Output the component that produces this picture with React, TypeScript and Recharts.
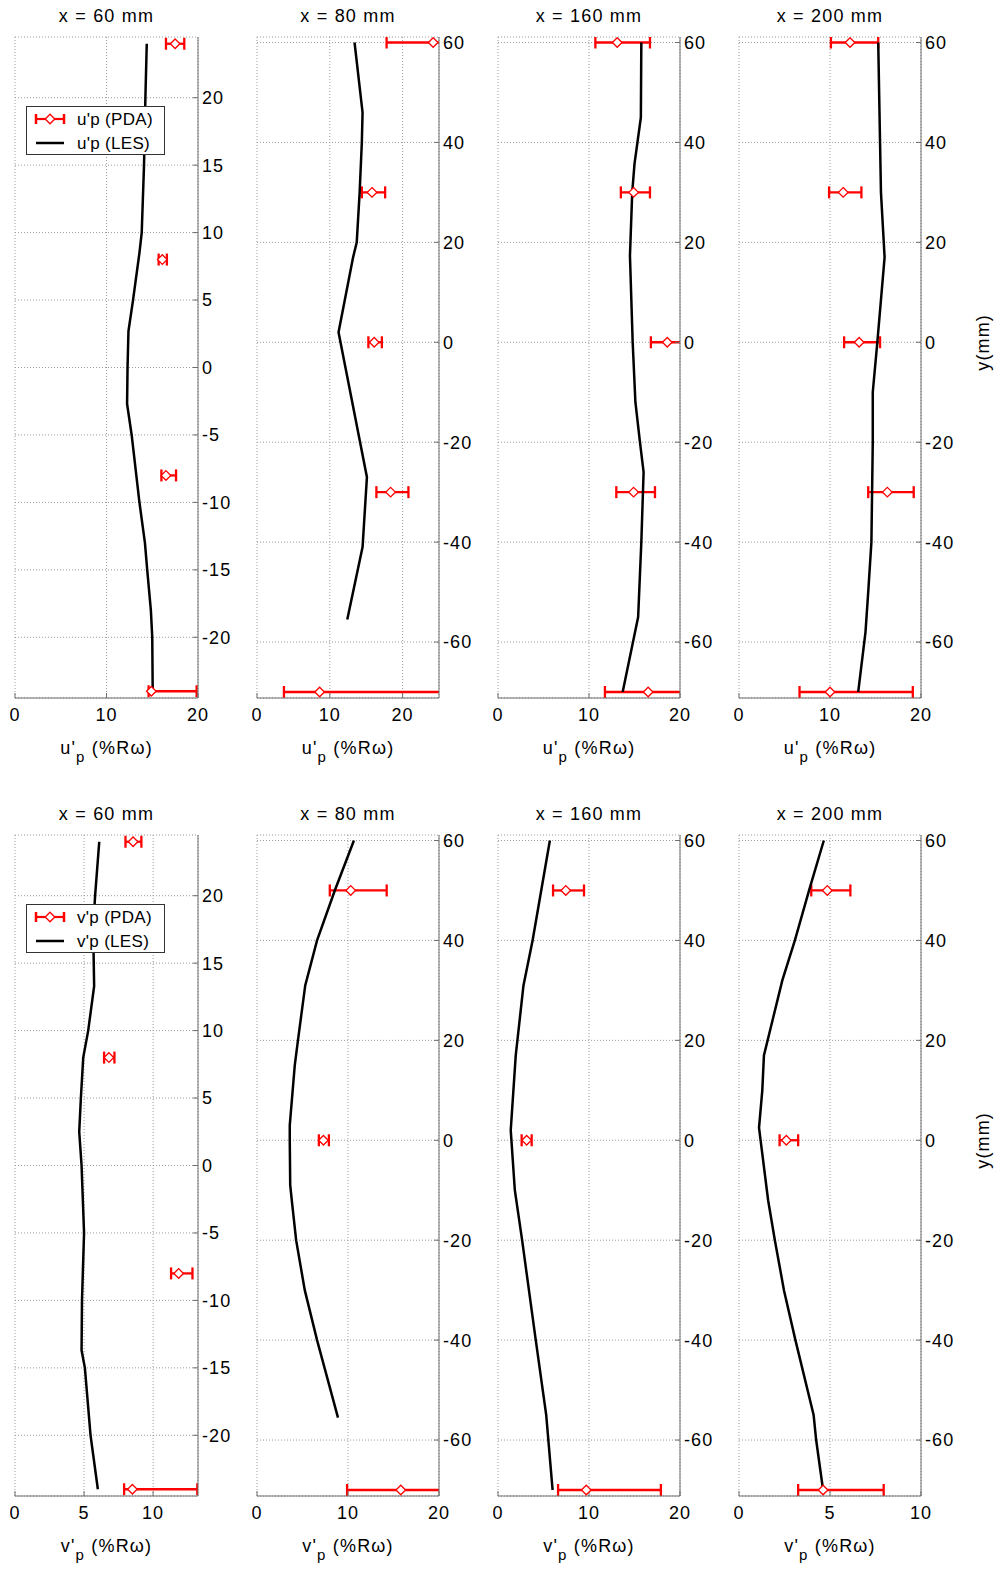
import React from 'react';
import { ScatterChart, Scatter, XAxis, YAxis, CartesianGrid, ErrorBar, Legend } from 'recharts';

const FONT = '"Liberation Sans", Arial, Helvetica, sans-serif';

// ---------- DATA ----------
// LES profiles: [y (mm), value (%Rω)]
const lesU60: [number, number][] = [
  [24, 14.4], [20, 14.25], [15, 14.1], [10, 13.85], [8.5, 13.6], [5, 12.9], [2.7, 12.4], [0, 12.3],
  [-2.7, 12.25], [-5, 12.75], [-10, 13.6], [-13, 14.2], [-15, 14.45], [-18, 14.85], [-20, 15.0], [-24, 15.05],
];
const lesU80: [number, number][] = [
  [60, 13.4], [46, 14.5], [40, 14.4], [30, 14.1], [20, 13.7], [17, 13.2], [2, 11.2], [-27, 15.1], [-41, 14.5], [-55.5, 12.4],
];
const lesU160: [number, number][] = [
  [60, 15.75], [45, 15.7], [35.7, 15.0], [30, 14.75], [17.3, 14.5], [0, 14.8], [-12, 15.1], [-20, 15.6],
  [-26, 16.0], [-40, 15.75], [-55, 15.4], [-70, 13.7],
];
const lesU200: [number, number][] = [
  [60, 15.3], [40, 15.5], [30, 15.6], [17, 16.0], [0, 15.2], [-10, 14.7], [-20, 14.7], [-40, 14.55],
  [-50, 14.2], [-58, 13.9], [-70, 13.1],
];
const lesV60: [number, number][] = [
  [24, 6.1], [20, 5.8], [17.5, 5.66], [13.3, 5.73], [10, 5.3], [8, 4.94], [5, 4.77], [2.5, 4.65], [0, 4.82],
  [-5, 5.0], [-10, 4.85], [-13.7, 4.82], [-15, 5.06], [-20, 5.47], [-24, 6.0],
];
const lesV80: [number, number][] = [
  [60, 10.65], [50, 8.55], [40, 6.6], [31, 5.3], [20, 4.5], [15, 4.15], [3, 3.6], [0, 3.6], [-9, 3.65],
  [-12.5, 3.85], [-20, 4.3], [-30, 5.25], [-40, 6.6], [-55.5, 8.9],
];
const lesV160: [number, number][] = [
  [60, 5.7], [40, 3.8], [31, 2.8], [17, 1.95], [2, 1.4], [-10, 1.85], [-20, 2.65], [-40, 4.15], [-55, 5.3], [-70, 6.0],
];
const lesV200: [number, number][] = [
  [60, 4.66], [50, 3.85], [40, 3.07], [32, 2.38], [17, 1.37], [10, 1.28], [2.5, 1.1], [-12, 1.6], [-20, 1.97],
  [-30, 2.47], [-40, 3.1], [-55, 4.1], [-60, 4.24], [-70, 4.62],
];

// PDA measurements: [y (mm), mean, lower end, upper end]
const pdaU60: [number, number, number, number][] = [
  [24, 17.5, 16.5, 18.5], [8, 16.1, 15.7, 16.6], [-8, 16.5, 16.0, 17.6], [-24, 14.9, 14.6, 19.85],
];
const pdaU80: [number, number, number, number][] = [
  [60, 24.2, 17.8, 30.6], [30, 15.8, 14.4, 17.6], [0, 16.1, 15.3, 17.15], [-30, 18.35, 16.4, 20.8], [-70, 8.6, 3.7, 26.5],
];
const pdaU160: [number, number, number, number][] = [
  [60, 13.1, 10.7, 16.7], [30, 14.9, 13.5, 16.7], [0, 18.6, 16.8, 20.4], [-30, 14.9, 13.0, 17.25], [-70, 16.5, 11.75, 21.25],
];
const pdaU200: [number, number, number, number][] = [
  [60, 12.2, 10.1, 15.3], [30, 11.45, 9.9, 13.45], [0, 13.2, 11.55, 15.5], [-30, 16.3, 14.2, 19.2], [-70, 10.0, 6.65, 19.1],
];
const pdaV60: [number, number, number, number][] = [
  [24, 8.55, 8.0, 9.15], [8, 6.8, 6.45, 7.2], [-8, 11.85, 11.3, 12.85], [-24, 8.5, 7.9, 13.2],
];
const pdaV80: [number, number, number, number][] = [
  [50, 10.3, 8.0, 14.25], [0, 7.3, 6.8, 7.9], [-70, 15.8, 9.9, 21.7],
];
const pdaV160: [number, number, number, number][] = [
  [50, 7.45, 6.05, 9.45], [0, 3.15, 2.6, 3.7], [-70, 9.7, 6.6, 17.9],
];
const pdaV200: [number, number, number, number][] = [
  [50, 4.85, 3.97, 6.12], [0, 2.6, 2.23, 3.25], [-70, 4.62, 3.25, 7.95],
];

// Axis ticks & domains
const yTicksNear = [20, 15, 10, 5, 0, -5, -10, -15, -20];
const yTicksFar = [60, 40, 20, 0, -20, -40, -60];
const yDomainNear: [number, number] = [-24.5, 24.5];
const yDomainFar: [number, number] = [-71.2, 61.1];
const xTicks20 = [0, 10, 20];
const xTicks10 = [0, 5, 10];

// ---------- LAYOUT ----------
const PLOT_H = 661;
const TOP_ROW = 37;
const BOTTOM_ROW = 835;

interface PanelSpec {
  title: string;
  sym: string;
  les: [number, number][];
  pda: [number, number, number, number][];
  xDomain: [number, number];
  xTicks: number[];
  yDomain: [number, number];
  yTicks: number[];
  left: number;
  top: number;
  w: number;
  legend?: boolean;
  yLabel?: boolean;
}

const PANELS: PanelSpec[] = [
  { title: 'x = 60 mm', sym: 'u', les: lesU60, pda: pdaU60, xDomain: [0, 20], xTicks: xTicks20, yDomain: yDomainNear, yTicks: yTicksNear, left: 15, top: TOP_ROW, w: 183, legend: true },
  { title: 'x = 80 mm', sym: 'u', les: lesU80, pda: pdaU80, xDomain: [0, 25], xTicks: xTicks20, yDomain: yDomainFar, yTicks: yTicksFar, left: 257, top: TOP_ROW, w: 182 },
  { title: 'x = 160 mm', sym: 'u', les: lesU160, pda: pdaU160, xDomain: [0, 20], xTicks: xTicks20, yDomain: yDomainFar, yTicks: yTicksFar, left: 498, top: TOP_ROW, w: 182 },
  { title: 'x = 200 mm', sym: 'u', les: lesU200, pda: pdaU200, xDomain: [0, 20], xTicks: xTicks20, yDomain: yDomainFar, yTicks: yTicksFar, left: 739, top: TOP_ROW, w: 182, yLabel: true },
  { title: 'x = 60 mm', sym: 'v', les: lesV60, pda: pdaV60, xDomain: [0, 13.25], xTicks: xTicks10, yDomain: yDomainNear, yTicks: yTicksNear, left: 15, top: BOTTOM_ROW, w: 183, legend: true },
  { title: 'x = 80 mm', sym: 'v', les: lesV80, pda: pdaV80, xDomain: [0, 20], xTicks: xTicks20, yDomain: yDomainFar, yTicks: yTicksFar, left: 257, top: BOTTOM_ROW, w: 182 },
  { title: 'x = 160 mm', sym: 'v', les: lesV160, pda: pdaV160, xDomain: [0, 20], xTicks: xTicks20, yDomain: yDomainFar, yTicks: yTicksFar, left: 498, top: BOTTOM_ROW, w: 182 },
  { title: 'x = 200 mm', sym: 'v', les: lesV200, pda: pdaV200, xDomain: [0, 10], xTicks: xTicks10, yDomain: yDomainFar, yTicks: yTicksFar, left: 739, top: BOTTOM_ROW, w: 182, yLabel: true },
];

const RED = '#ff0000';
const FRAME = '#6e6e6e';
const SPACING = '1.1px';

const Diamond = (props: any) => {
  const { cx, cy } = props;
  if (cx == null || cy == null) return <g />;
  const r = 4.8;
  return (
    <path
      d={`M${cx},${cy - r}L${cx + r},${cy}L${cx},${cy + r}L${cx - r},${cy}Z`}
      fill="#fff"
      stroke={RED}
      strokeWidth={1.3}
    />
  );
};

const NoShape = () => <g />;

const makeXTitle = (sym: string) => (props: any) => {
  const vb = props.viewBox || {};
  const cx = vb.x + vb.width / 2;
  const by = vb.y + 56;
  return (
    <text
      x={cx}
      y={by}
      textAnchor="middle"
      fontSize={18}
      fill="#000"
      fontFamily={FONT}
      style={{ letterSpacing: '1.2px' }}
    >
      {sym}'<tspan fontSize={15} dy={8}>p</tspan>
      <tspan dy={-8}> (%Rω)</tspan>
    </text>
  );
};

const yMmLabel = (props: any) => {
  const vb = props.viewBox || {};
  const x = vb.x + 62;
  const y = vb.y + vb.height * 0.462;
  return (
    <text
      x={x}
      y={y}
      transform={`rotate(-90 ${x} ${y})`}
      textAnchor="middle"
      dominantBaseline="central"
      fontSize={18}
      fill="#000"
      fontFamily={FONT}
      style={{ letterSpacing: SPACING }}
    >
      y(mm)
    </text>
  );
};

const LegendBox = ({ sym }: { sym: string }) => (
  <svg width={140} height={49} style={{ display: 'block' }}>
    <rect x={0.5} y={0.5} width={138} height={48} fill="#fff" stroke="#333" strokeWidth={1} />
    <line x1={10} y1={13} x2={38} y2={13} stroke={RED} strokeWidth={2.2} />
    <line x1={10} y1={8} x2={10} y2={18} stroke={RED} strokeWidth={2.5} />
    <line x1={38} y1={8} x2={38} y2={18} stroke={RED} strokeWidth={2.5} />
    <path d="M24,8.2L28.8,13L24,17.8L19.2,13Z" fill="#fff" stroke={RED} strokeWidth={1.3} />
    <text x={51} y={13} dominantBaseline="central" fontSize={17} fontFamily={FONT} fill="#000" style={{ letterSpacing: '0.3px' }}>
      {sym}'p (PDA)
    </text>
    <line x1={10} y1={37} x2={38} y2={37} stroke="#000" strokeWidth={2.5} />
    <text x={51} y={37} dominantBaseline="central" fontSize={17} fontFamily={FONT} fill="#000" style={{ letterSpacing: '0.3px' }}>
      {sym}'p (LES)
    </text>
  </svg>
);

const Panel = ({ spec, idx }: { spec: PanelSpec; idx: number }) => {
  const lesData = spec.les.map(([y, v]) => ({ x: v, y }));
  const pdaData = spec.pda.map(([y, m, lo, hi]) => ({ x: m, y, err: [m - lo, hi - m] }));
  const rightW = spec.yLabel ? 80 : 45;
  const padL = 5;
  const padT = 37;
  const chartW = padL + spec.w + rightW;
  const chartH = padT + PLOT_H + 75;
  const clipId = `plot-clip-${idx}`;
  const tickStyle = { fill: '#000', fontSize: 18, fontFamily: FONT, style: { letterSpacing: SPACING } };
  return (
    <div style={{ position: 'absolute', left: spec.left - padL, top: spec.top - padT, width: chartW, height: chartH }}>
      <svg width={0} height={0} style={{ position: 'absolute', left: 0, top: 0 }}>
        <defs>
          <clipPath id={clipId} clipPathUnits="userSpaceOnUse">
            <rect x={padL} y={padT} width={spec.w} height={PLOT_H} />
          </clipPath>
        </defs>
      </svg>
      <div
        style={{
          position: 'absolute',
          left: padL,
          top: 5,
          width: spec.w,
          textAlign: 'center',
          fontSize: 18,
          lineHeight: '22px',
          fontFamily: FONT,
          letterSpacing: '1.2px',
          color: '#000',
          zIndex: 2,
        }}
      >
        {spec.title}
      </div>
      <ScatterChart width={chartW} height={chartH} margin={{ top: padT, left: padL, right: 0, bottom: 0 }}>
        <CartesianGrid stroke="#9a9a9a" strokeDasharray="1 2" fill="none" />
        <XAxis
          type="number"
          dataKey="x"
          domain={spec.xDomain}
          ticks={spec.xTicks}
          allowDataOverflow
          interval={0}
          height={75}
          stroke={FRAME}
          tickSize={-5}
          tickMargin={15}
          tick={tickStyle}
          label={{ content: makeXTitle(spec.sym) }}
        />
        <XAxis
          xAxisId="top"
          orientation="top"
          type="number"
          domain={spec.xDomain}
          ticks={spec.xTicks}
          allowDataOverflow
          interval={0}
          height={0}
          stroke={FRAME}
          tickSize={-5}
          tick={false}
        />
        <YAxis
          type="number"
          dataKey="y"
          orientation="right"
          domain={spec.yDomain}
          ticks={spec.yTicks}
          allowDataOverflow
          interval={0}
          width={rightW}
          stroke={FRAME}
          tickSize={-5}
          tickMargin={9}
          tick={tickStyle}
          label={spec.yLabel ? { content: yMmLabel } : undefined}
        />
        <YAxis
          yAxisId="left"
          orientation="left"
          type="number"
          domain={spec.yDomain}
          ticks={spec.yTicks}
          allowDataOverflow
          interval={0}
          width={0}
          stroke={FRAME}
          tickSize={-5}
          tick={false}
        />
        <Scatter
          name={`${spec.sym}'p (LES)`}
          data={lesData}
          line={{ stroke: '#000', strokeWidth: 2.5 }}
          lineJointType="linear"
          shape={NoShape}
          isAnimationActive={false}
        />
        <Scatter name={`${spec.sym}'p (PDA)`} data={pdaData} shape={Diamond} isAnimationActive={false}>
          <ErrorBar
            dataKey="err"
            direction="x"
            width={6}
            stroke={RED}
            strokeWidth={2.3}
            clipPath={`url(#${clipId})`}
          />
        </Scatter>
        {spec.legend && (
          <Legend
            layout="horizontal"
            verticalAlign="middle"
            align="center"
            wrapperStyle={{ left: 16, top: 106, width: 140, height: 49 }}
            content={() => <LegendBox sym={spec.sym} />}
          />
        )}
      </ScatterChart>
    </div>
  );
};

export default function App() {
  return (
    <div
      style={{
        position: 'absolute',
        left: 0,
        top: 0,
        width: 995,
        height: 1569,
        background: '#fff',
        fontFamily: FONT,
        overflow: 'hidden',
      }}
    >
      {PANELS.map((p, i) => (
        <Panel key={i} idx={i} spec={p} />
      ))}
    </div>
  );
}
